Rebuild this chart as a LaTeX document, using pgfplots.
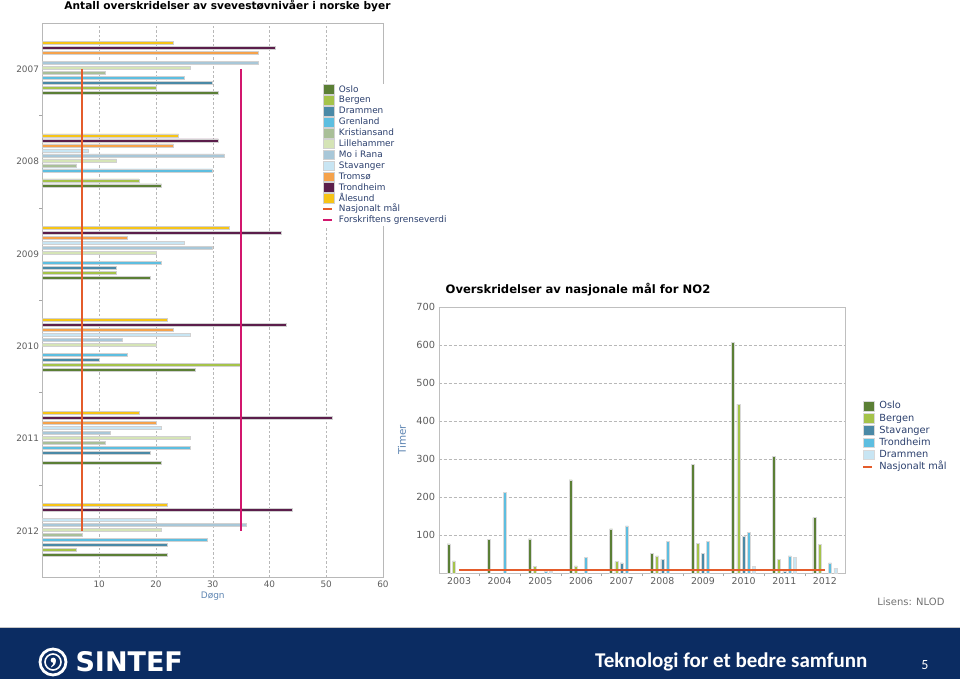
\documentclass[border=0pt]{standalone}
\usepackage{pgfplots}
\pgfplotsset{compat=1.18}
\usepackage{fontspec}
\setmainfont{DejaVu Sans}
\newfontfamily\carlito{Carlito}
\definecolor{cOslo}{HTML}{5B7F35}
\definecolor{cBergen}{HTML}{A5C34A}
\definecolor{cDrammen}{HTML}{4A89A6}
\definecolor{cGrenland}{HTML}{5DBEE0}
\definecolor{cKrist}{HTML}{A9BF98}
\definecolor{cLille}{HTML}{D5E4B6}
\definecolor{cMo}{HTML}{A8C7D8}
\definecolor{cStav}{HTML}{C8E5F3}
\definecolor{cTromso}{HTML}{F5A24B}
\definecolor{cTrond}{HTML}{5B1E4B}
\definecolor{cAle}{HTML}{F6C417}
\definecolor{cNasj}{HTML}{E45C2B}
\definecolor{cForsk}{HTML}{D2166D}
\definecolor{legtext}{HTML}{2C406E}
\definecolor{labblue}{HTML}{5F86B3}
\definecolor{navy}{HTML}{0B2C62}
\definecolor{tickc}{HTML}{5E5E5E}
\pgfplotsset{
  barleg/.style={legend image code/.code={\fill[##1] (0pt,-4.6pt) rectangle (11pt,5pt);}},
  lineleg/.style={legend image code/.code={\draw[##1] (0pt,0.3pt) -- (9pt,0.3pt);}},
  lbar/.style={xbar, bar width=3pt, fill=#1, draw=black!18, line width=0.6pt, barleg},
  rbar/.style={ybar, bar width=3pt, fill=#1, draw=black!15, line width=0.6pt, barleg},
}
\begin{document}
\begin{tikzpicture}
\path[use as bounding box, fill=white] (0,0) rectangle (960pt,679pt);
% ---------------- left chart: PM10 exceedances (days) ----------------
\begin{axis}[
  at={(42.5pt,101.8pt)}, anchor=south west,
  scale only axis, width=340.5pt, height=554.4pt,
  xmin=0, xmax=60, ymin=-2012.5, ymax=-2006.5,
  xtick={10,20,...,60},
  ytick={-2012,-2011,...,-2007},
  yticklabels={2012,2011,2010,2009,2008,2007},
  minor ytick={-2011.5,-2010.5,...,-2007.5},
  xtick pos=bottom, ytick pos=left,
  major tick length=0pt, minor tick length=3pt, tick align=outside,
  minor tick style={black!35},
  xmajorgrids, major grid style={black!28, dash pattern=on 2.5pt off 2pt},
  axis line style={black!28},
  /pgf/number format/assume math mode=true,
  /pgf/number format/1000 sep={},
  ticklabel style={font=\fontsize{8.9}{10}\selectfont, text=tickc},
  xlabel={Døgn},
  xlabel style={at={(axis description cs:0.5,-0.0343)}, anchor=center, text=labblue, font=\fontsize{9}{10}\selectfont},
  legend style={at={(0.821,0.8896)}, anchor=north west, draw=none, fill=white,
    font=\fontsize{8.9}{10}\selectfont, text=legtext, inner sep=0pt, row sep=0pt,
    cells={anchor=west}, nodes={inner sep=0.5pt, text height=7.4pt, text depth=2.5pt},
    /tikz/every odd column/.append style={column sep=4pt}},
  legend cell align=left,
]
\addplot[lbar=cOslo, bar shift=-24pt] coordinates {(31,-2007) (21,-2008) (19,-2009) (27,-2010) (21,-2011) (22,-2012)};
\addplot[lbar=cBergen, bar shift=-19pt] coordinates {(20,-2007) (17,-2008) (13,-2009) (35,-2010) (6,-2012)};
\addplot[lbar=cDrammen, bar shift=-14pt] coordinates {(30,-2007) (13,-2009) (10,-2010) (19,-2011) (22,-2012)};
\addplot[lbar=cGrenland, bar shift=-9pt] coordinates {(25,-2007) (30,-2008) (21,-2009) (15,-2010) (26,-2011) (29,-2012)};
\addplot[lbar=cKrist, bar shift=-4pt] coordinates {(11,-2007) (6,-2008) (11,-2011) (7,-2012)};
\addplot[lbar=cLille, bar shift=1pt] coordinates {(26,-2007) (13,-2008) (20,-2009) (20,-2010) (26,-2011) (21,-2012)};
\addplot[lbar=cMo, bar shift=6pt] coordinates {(38,-2007) (32,-2008) (30,-2009) (14,-2010) (12,-2011) (36,-2012)};
\addplot[lbar=cStav, bar shift=11pt] coordinates {(8,-2008) (25,-2009) (26,-2010) (21,-2011) (20,-2012)};
\addplot[lbar=cTromso, bar shift=16pt] coordinates {(38,-2007) (23,-2008) (15,-2009) (23,-2010) (20,-2011)};
\addplot[lbar=cTrond, bar shift=21pt] coordinates {(41,-2007) (31,-2008) (42,-2009) (43,-2010) (51,-2011) (44,-2012)};
\addplot[lbar=cAle, bar shift=26pt] coordinates {(23,-2007) (24,-2008) (33,-2009) (22,-2010) (17,-2011) (22,-2012)};
\addplot[cNasj, line width=1.8pt, lineleg] coordinates {(7,-2007) (7,-2012)};
\addplot[cForsk, line width=1.8pt, lineleg] coordinates {(35,-2007) (35,-2012)};
\legend{Oslo,Bergen,Drammen,Grenland,Kristiansand,Lillehammer,Mo i Rana,Stavanger,Tromsø,Trondheim,Ålesund,Nasjonalt mål,Forskriftens grenseverdi}
\end{axis}
\node[font=\fontsize{10.6}{12}\selectfont\bfseries, inner sep=0pt] at (227.5pt,673pt) {Antall overskridelser av svevestøvnivåer i norske byer};
% ---------------- right chart: NO2 exceedances (hours) ----------------
\begin{axis}[
  at={(438.7pt,105.5pt)}, anchor=south west,
  scale only axis, width=406.6pt, height=266.5pt,
  xmin=2002.5, xmax=2012.5, ymin=0, ymax=700,
  xtick={2003,...,2012}, ytick={100,200,...,700},
  minor xtick={2003.5,2004.5,...,2011.5},
  xtick pos=bottom, ytick pos=left,
  major tick length=0pt, minor tick length=3pt, tick align=outside,
  minor tick style={black!35},
  ymajorgrids, major grid style={black!28, dash pattern=on 3pt off 2pt},
  axis line style={black!25},
  /pgf/number format/assume math mode=true,
  /pgf/number format/1000 sep={},
  xticklabel style={font=\fontsize{9.4}{10}\selectfont, text=tickc},
  yticklabel style={font=\fontsize{9.8}{10}\selectfont, text=tickc},
  ylabel={Timer},
  ylabel style={at={(axis description cs:-0.0903,0.501)}, anchor=center, text=labblue, font=\fontsize{10.4}{12}\selectfont},
  legend style={at={(1.041,0.651)}, anchor=north west, draw=none, fill=white,
    font=\fontsize{9.8}{11}\selectfont, text=legtext, inner sep=0pt, row sep=0pt,
    cells={anchor=west}, nodes={inner sep=0.5pt, text height=8.2pt, text depth=3pt},
    /tikz/every odd column/.append style={column sep=4.5pt}},
  legend cell align=left,
]
\addplot[rbar=cOslo, bar shift=-10.5pt] coordinates {(2003,78) (2004,90) (2005,91) (2006,246) (2007,117) (2008,53) (2009,287) (2010,607) (2011,307) (2012,147)};
\addplot[rbar=cBergen, bar shift=-5.25pt] coordinates {(2003,33) (2005,18) (2006,20) (2007,31) (2008,46) (2009,79) (2010,445) (2011,37) (2012,77)};
\addplot[rbar=cDrammen, bar shift=0pt] coordinates {(2007,28) (2008,37) (2009,53) (2010,97) (2011,5)};
\addplot[rbar=cGrenland, bar shift=5.25pt] coordinates {(2004,212) (2005,6) (2006,43) (2007,125) (2008,85) (2009,84) (2010,108) (2011,46) (2012,28)};
\addplot[rbar=cStav, bar shift=10.5pt] coordinates {(2005,5) (2010,18) (2011,43) (2012,14)};
\addplot[cNasj, line width=1.8pt, lineleg] coordinates {(2003,9) (2012,9)};
\legend{Oslo,Bergen,Stavanger,Trondheim,Drammen,Nasjonalt mål}
\end{axis}
\node[font=\fontsize{11.6}{13}\selectfont\bfseries, inner sep=0pt] at (578pt,389pt) {Overskridelser av nasjonale mål for NO2};
% ---------------- footer ----------------
\node[anchor=east, text=black!55, font=\fontsize{10}{12}\selectfont] at (948pt,77pt) {Lisens: NLOD};
\fill[black!22] (0,50.5pt) rectangle (960pt,52pt);
\fill[navy] (0,0) rectangle (960pt,50.5pt);
\begin{scope}[shift={(53pt,17pt)}]
  \draw[white, line width=2.8pt] (0,0) circle (13pt);
  \draw[white, line width=1.6pt] (0,0) circle (8pt);
  \fill[white] (0.3pt,1.8pt) circle (2.6pt);
  \fill[white] (2.9pt,1.8pt) .. controls (3pt,-2.5pt) and (0.5pt,-4.5pt) .. (-2pt,-5.5pt) -- (-1.6pt,-4.2pt) .. controls (0pt,-3pt) and (0.6pt,-1pt) .. (0.3pt,0pt) -- cycle;
\end{scope}
\node[anchor=west, text=white, font=\fontsize{27}{30}\bfseries] at (72pt,17pt) {SINTEF};
\node[anchor=west, text=white, inner sep=0pt, font=\carlito\bfseries\fontsize{21}{24}\selectfont] at (595pt,17pt) {Teknologi for et bedre samfunn};
\node[text=white, font=\carlito\fontsize{14}{16}\selectfont] at (925pt,14pt) {5};
\end{tikzpicture}
\end{document}
